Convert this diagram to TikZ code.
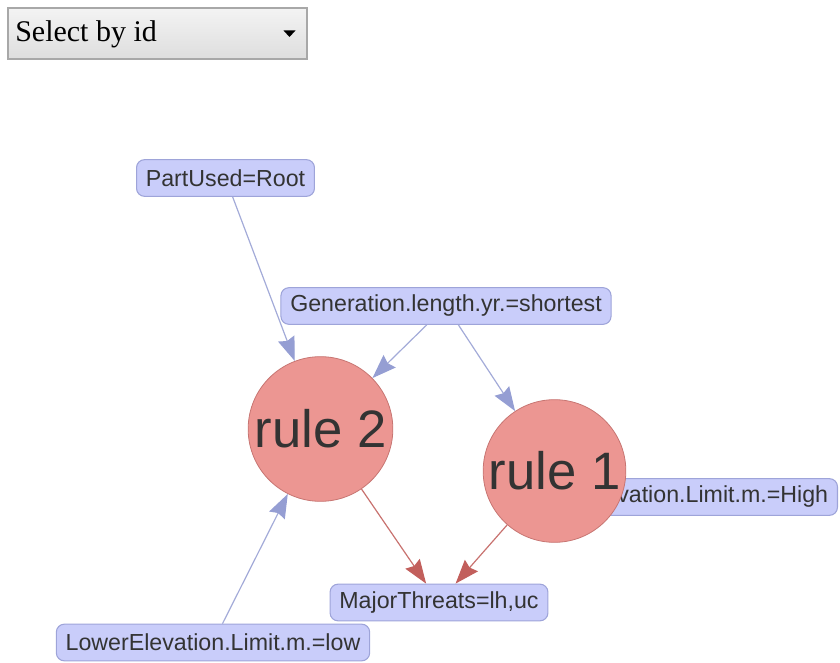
\documentclass[tikz,border=0pt]{standalone}
\usepackage{fontspec}
\setmainfont{Liberation Serif}
\newfontfamily\graphsans{Liberation Sans}
\usetikzlibrary{arrows.meta}
\pgfdeclarelayer{edges}
\pgfsetlayers{edges,main}

\definecolor{attrfill}{HTML}{C9CDFA}
\definecolor{attrdraw}{HTML}{9EA4D9}
\definecolor{rulefill}{HTML}{EC9692}
\definecolor{ruledraw}{HTML}{C77572}
\definecolor{inlink}{HTML}{A3ABD8}
\definecolor{inhead}{HTML}{959ED3}
\definecolor{outlink}{HTML}{C8726F}
\definecolor{outhead}{HTML}{C25F5C}
\definecolor{labeltext}{HTML}{333333}
\definecolor{menuborder}{HTML}{A8A8A8}
\definecolor{menutop}{HTML}{F3F3F3}
\definecolor{menubottom}{HTML}{DEDEDE}

\tikzset{
  attr/.style={draw=attrdraw, fill=attrfill, line width=0.8pt,
    rounded corners=6pt, minimum height=27.5pt, inner xsep=7pt, inner ysep=0pt,
    font=\graphsans\fontsize{17.4pt}{20pt}\selectfont, text=labeltext},
  rulenode/.style={circle, draw=ruledraw, fill=rulefill, line width=0.6pt,
    inner sep=0pt, font=\graphsans\fontsize{39.5pt}{44pt}\selectfont, text=labeltext},
  inedge/.style={draw=inlink, line width=0.9pt,
    -{Stealth[length=18pt, width=13pt, inset=2pt, color=inhead]}},
  outedge/.style={draw=outlink, line width=0.9pt,
    -{Stealth[length=18pt, width=13pt, inset=2pt, color=outhead]}},
}

\begin{document}
\begin{tikzpicture}[x=0.75pt, y=-0.75pt]
\useasboundingbox (0,0) rectangle (840,663);

% selection menu
\shade[top color=menutop, bottom color=menubottom] (8,8) rectangle (307,59);
\draw[menuborder, line width=0.9pt] (8,8) rectangle (307,59);
\node[anchor=base west, inner sep=0pt, font=\fontsize{22.5pt}{26pt}\selectfont, text=black]
  (menulabel) at (15,42) {Select by id};
\fill[black] (283.5,30.5) -- (295.5,30.5) -- (289.5,37) -- cycle;

% attribute nodes
\node[attr] (part) at (225.5,178) {PartUsed=Root};
\node[attr] (gen) at (446,306) {Generation.length.yr.=shortest};
\node[attr, anchor=east] (upper) at (838,497) {UpperElevation.Limit.m.=High};
\node[attr] (threats) at (439,602.5) {MajorThreats=lh,uc};
\node[attr] (lower) at (213,642.5) {LowerElevation.Limit.m.=low};

% rule nodes
\node[rulenode, minimum size=108.5pt] (r2) at (320.5,429) {rule 2};
\node[rulenode, minimum size=107pt] (r1) at (554.5,471) {rule 1};

% connectors
\begin{pgfonlayer}{edges}
\draw[inedge] (part) -- (r2);
\draw[inedge] (gen) -- (r2);
\draw[inedge] (gen) -- (r1);
\draw[inedge] (lower) -- (r2);
\draw[outedge] (r2) -- (threats);
\draw[outedge] (r1) -- (threats);
\end{pgfonlayer}
\end{tikzpicture}
\end{document}
